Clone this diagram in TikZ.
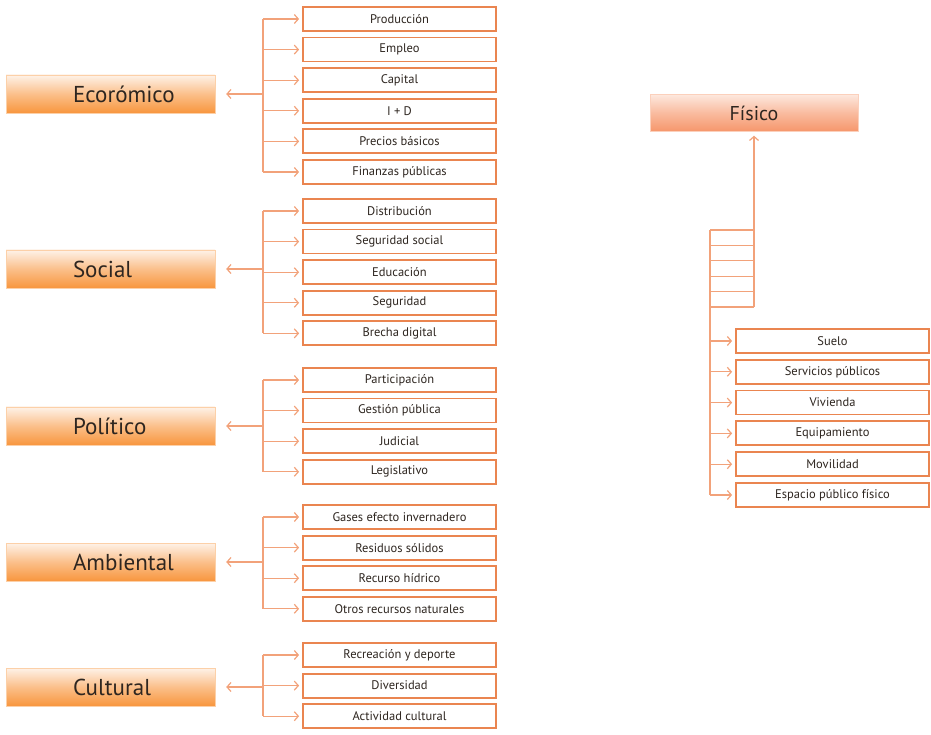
\documentclass[tikz,border=0pt]{standalone}
\usepackage{fontspec}
\setmainfont{PT Sans}
\usepackage{tikz}
\usetikzlibrary{arrows.meta, positioning}

\definecolor{linkorange}{HTML}{F2A27A}
\definecolor{boxorange}{HTML}{EA8550}
\definecolor{headtop}{HTML}{FEF2E8}
\definecolor{headbot}{HTML}{F8963E}
\definecolor{fistop}{HTML}{FDE8DE}
\definecolor{fisbot}{HTML}{F6966B}
\definecolor{inktext}{HTML}{2E2620}

\begin{document}
\begin{tikzpicture}[x=1pt, y=1pt]
    % Styles for boxes and arrows
    \tikzset{
      headbox/.style={rectangle, top color=headtop, bottom color=headbot, middle color=headbot!55!headtop,
        draw=headbot!45!white, line width=0.4pt, minimum width=209pt, minimum height=38pt,
        text width=209pt, inner xsep=0pt, align=left, text=inktext,
        font=\fontsize{23}{26}\selectfont, execute at begin node=\hspace*{67pt}},
      fisbox/.style={rectangle, top color=fistop, bottom color=fisbot, middle color=fisbot!55!fistop,
        draw=fisbot!45!white, line width=0.4pt, minimum width=208pt, minimum height=37pt,
        text=inktext, font=\fontsize{20}{23}\selectfont},
      itembox/.style={rectangle, draw=boxorange, line width=1.8pt, fill=white, minimum width=193pt,
        minimum height=24pt, inner sep=0pt, text=inktext, font=\fontsize{12.5}{14}\selectfont},
      link/.style={draw=linkorange, line width=1.2pt},
      arrow/.style={link, -{Straight Barb[length=4pt, width=9pt, line width=1.2pt]}}
    }
    \useasboundingbox (0,0) rectangle (931,734);

    % Headers
    \node[headbox] (econ) at (110.5,640) {Ecorómico};
    \node[headbox] (social) at (110.5,465) {Social};
    \node[headbox] (politico) at (110.5,308) {Político};
    \node[headbox] (ambiental) at (110.5,172) {Ambiental};
    \node[headbox] (cultural) at (110.5,47) {Cultural};
    \node[fisbox] (fisico) at (754,621) {Físico};

    % Economico
    \node[itembox] (prod) at (399.5,715) {Producción};
    \node[itembox, below=4.8pt of prod] (empleo) {Empleo};
    \node[itembox, below=4.8pt of empleo] (capital) {Capital};
    \node[itembox, below=4.8pt of capital] (imasd) {I + D};
    \node[itembox, below=4.8pt of imasd] (precios) {Precios básicos};
    \node[itembox, below=4.8pt of precios] (finanzas) {Finanzas públicas};

    % Social
    \node[itembox] (distrib) at (399.5,523) {Distribución};
    \node[itembox, below=4.8pt of distrib] (segsocial) {Seguridad social};
    \node[itembox, below=4.8pt of segsocial] (educ) {Educación};
    \node[itembox, below=4.8pt of educ] (segur) {Seguridad};
    \node[itembox, below=4.8pt of segur] (brecha) {Brecha digital};

    % Politico
    \node[itembox] (partic) at (399.5,354) {Participación};
    \node[itembox, below=4.8pt of partic] (gestion) {Gestión pública};
    \node[itembox, below=4.8pt of gestion] (judicial) {Judicial};
    \node[itembox, below=4.8pt of judicial] (legis) {Legislativo};

    % Ambiental
    \node[itembox] (gases) at (399.5,217) {Gases efecto invernadero};
    \node[itembox, below=4.8pt of gases] (residuos) {Residuos sólidos};
    \node[itembox, below=4.8pt of residuos] (hidrico) {Recurso hídrico};
    \node[itembox, below=4.8pt of hidrico] (otros) {Otros recursos naturales};

    % Cultural
    \node[itembox] (recrea) at (399.5,79) {Recreación y deporte};
    \node[itembox, below=4.8pt of recrea] (divers) {Diversidad};
    \node[itembox, below=4.8pt of divers] (activ) {Actividad cultural};

    % Fisico
    \node[itembox] (suelo) at (832.5,393) {Suelo};
    \node[itembox, below=5pt of suelo] (servicios) {Servicios públicos};
    \node[itembox, below=5pt of servicios] (vivienda) {Vivienda};
    \node[itembox, below=5pt of vivienda] (equipam) {Equipamiento};
    \node[itembox, below=5pt of equipam] (movil) {Movilidad};
    \node[itembox, below=5pt of movil] (espacio) {Espacio público físico};

    % Trunks
    \coordinate (econtrunk) at (263,640);
    \coordinate (socialtrunk) at (263,465);
    \coordinate (polittrunk) at (263,308);
    \coordinate (ambtrunk) at (263,172);
    \coordinate (culttrunk) at (263,47);
    \coordinate (ladtop) at (710,504);
    \coordinate (ladbase) at (754,427);

    % Arrows
    \draw[link] (prod.west -| econtrunk) -- (finanzas.west -| econtrunk);
    \draw[arrow, shorten >=11pt] (econtrunk) -- (econ.east);
    \foreach \n in {prod,empleo,capital,imasd,precios,finanzas}
      \draw[arrow, shorten >=3pt] (\n.west -| econtrunk) -- (\n.west);

    \draw[link] (distrib.west -| socialtrunk) -- (brecha.west -| socialtrunk);
    \draw[arrow, shorten >=11pt] (socialtrunk) -- (social.east);
    \foreach \n in {distrib,segsocial,educ,segur,brecha}
      \draw[arrow, shorten >=3pt] (\n.west -| socialtrunk) -- (\n.west);

    \draw[link] (partic.west -| polittrunk) -- (legis.west -| polittrunk);
    \draw[arrow, shorten >=11pt] (polittrunk) -- (politico.east);
    \foreach \n in {partic,gestion,judicial,legis}
      \draw[arrow, shorten >=3pt] (\n.west -| polittrunk) -- (\n.west);

    \draw[link] (gases.west -| ambtrunk) -- (otros.west -| ambtrunk);
    \draw[arrow, shorten >=11pt] (ambtrunk) -- (ambiental.east);
    \foreach \n in {gases,residuos,hidrico,otros}
      \draw[arrow, shorten >=3pt] (\n.west -| ambtrunk) -- (\n.west);

    \draw[link] (recrea.west -| culttrunk) -- (activ.west -| culttrunk);
    \draw[arrow, shorten >=11pt] (culttrunk) -- (cultural.east);
    \foreach \n in {recrea,divers,activ}
      \draw[arrow, shorten >=3pt] (\n.west -| culttrunk) -- (\n.west);

    % Ladder below Fisico
    \draw[arrow, shorten >=4pt] (ladbase) -- (fisico.south);
    \foreach \k in {0,...,5}
      \draw[link] ([yshift=-15.4*\k pt]ladtop) -- ++(44,0);
    \draw[link] (ladtop) -- (espacio.west -| ladtop);
    \foreach \n in {suelo,servicios,vivienda,equipam,movil,espacio}
      \draw[arrow, shorten >=3pt] (\n.west -| ladtop) -- (\n.west);
\end{tikzpicture}
\end{document}
